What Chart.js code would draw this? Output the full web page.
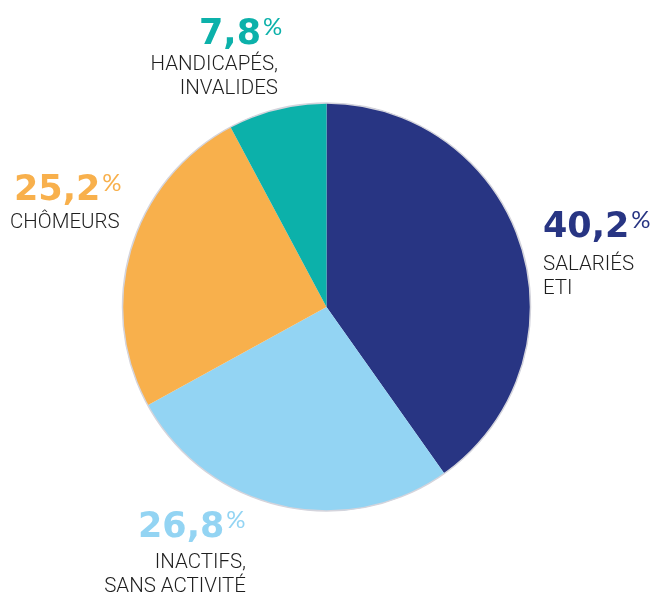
<!DOCTYPE html>
<html>
<head>
<meta charset="utf-8">
<script src="https://cdn.jsdelivr.net/npm/chart.js@4/dist/chart.umd.min.js"></script>
<style>
  html, body { margin: 0; padding: 0; background: #fff; }
  #wrap { width: 654px; height: 597px; }
</style>
</head>
<body>
<div id="wrap"><canvas id="pie"></canvas></div>
<script>
// Data
const categories = ['SALARIÉS\nETI', 'INACTIFS,\nSANS ACTIVITÉ', 'CHÔMEURS', 'HANDICAPÉS,\nINVALIDES'];
const values = [40.2, 26.8, 25.2, 7.8];
const colors = ['#283583', '#93d4f3', '#f8b04c', '#0cb1aa'];

// label blocks: number at (numX, numY baseline), category lines from (textX, textY)
const labelLayout = [
    { numX: 543, numY: 237, textX: 543, textY: 270, align: 'left' },
    { numX: 138, numY: 537, textX: 246, textY: 568, align: 'right' },
    { numX: 14, numY: 200, textX: 10, textY: 228, align: 'left' },
    { numX: 199, numY: 44, textX: 278, textY: 70, align: 'right' }
];

function fmt(v) {
    return v.toFixed(1).replace('.', ',');
}

const outerRing = {
    id: 'outerRing',
    afterDatasetsDraw(chart) {
        const arc = chart.getDatasetMeta(0).data[0];
        const ctx = chart.ctx;
        ctx.save();
        ctx.beginPath();
        ctx.arc(arc.x, arc.y, arc.outerRadius, 0, Math.PI * 2);
        ctx.strokeStyle = '#d4d4dc';
        ctx.lineWidth = 1.5;
        ctx.stroke();
        ctx.restore();
    }
};

const pieLabels = {
    id: 'pieLabels',
    afterDraw(chart) {
        const ctx = chart.ctx;
        ctx.save();
        ctx.textBaseline = 'alphabetic';
        values.forEach((v, i) => {
            const pos = labelLayout[i];
            const num = fmt(v);
            ctx.fillStyle = colors[i];
            ctx.textAlign = 'left';
            ctx.font = 'bold 35px "DejaVu Sans"';
            ctx.fillText(num, pos.numX, pos.numY);
            const wNum = ctx.measureText(num).width;
            ctx.font = '24px Lato';
            ctx.fillText('%', pos.numX + wNum + 2, pos.numY - 9);

            // category text
            ctx.fillStyle = '#1e1e1e';
            ctx.font = '300 20.5px Roboto';
            ctx.textAlign = pos.align;
            categories[i].split('\n').forEach((line, j) => {
                ctx.fillText(line, pos.textX, pos.textY + j * 24);
            });
        });
        ctx.restore();
    }
};

new Chart(document.getElementById('pie').getContext('2d'), {
    type: 'pie',
    data: {
        labels: categories,
        datasets: [{
            data: values,
            backgroundColor: colors,
            borderWidth: 0
        }]
    },
    options: {
        responsive: true,
        maintainAspectRatio: false,
        animation: false,
        layout: { padding: { top: 103, bottom: 86, left: 122, right: 123 } },
        plugins: {
            legend: { display: false },
            tooltip: { enabled: false }
        }
    },
    plugins: [outerRing, pieLabels]
});
</script>
</body>
</html>
